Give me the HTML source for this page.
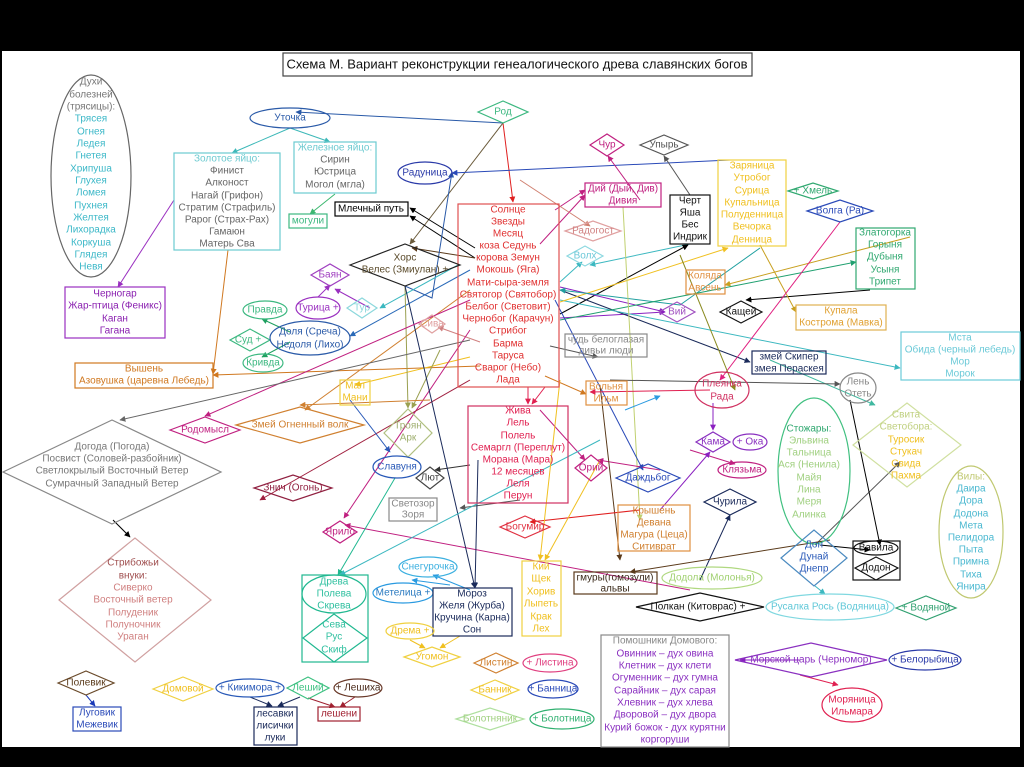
<!DOCTYPE html>
<html><head><meta charset="utf-8"><style>
html,body{margin:0;padding:0;background:#000;width:1024px;height:767px;overflow:hidden}
svg{display:block}
text{font-family:"Liberation Sans",sans-serif;font-size:10px;text-anchor:middle;dominant-baseline:middle}
.n{fill:none;stroke-width:1.2}
.l{fill:none;stroke-width:1}
</style></head><body>
<svg width="1024" height="767" viewBox="0 0 1024 767" xmlns="http://www.w3.org/2000/svg">
<defs>
<marker id="a" viewBox="0 0 10 10" refX="9" refY="5" markerWidth="6" markerHeight="6" orient="auto-start-reverse"><path d="M0,0L10,5L0,10z" fill="context-stroke"/></marker>
</defs>
<rect x="2" y="51" width="1018" height="696" fill="#fff"/>

<!-- connectors -->
<g class="l" marker-end="url(#a)">
<path d="M503,123 L296,112" stroke="#2a5aa8"/>
<path d="M503,123 L513,202" stroke="#e02020"/>
<path d="M503,123 L410,244" stroke="#6a5a3a"/>
<path d="M290,128 L232,153" stroke="#3cb8b8"/>
<path d="M290,128 L330,142" stroke="#3cb8b8"/>
<path d="M335,194 L310,214" stroke="#3cb870"/>
<path d="M174,200 L118,287" stroke="#9a30c0"/>
<path d="M228,250 L213,374" stroke="#d07820"/>
<path d="M730,160 L452,173" stroke="#2a4ab8"/>
<path d="M475,248 L410,208" stroke="#000"/>
<path d="M475,258 L410,216" stroke="#000"/>
<path d="M475,258 L412,248" stroke="#5a3a1a"/>
<path d="M405,286 L432,298 L452,172" stroke="#2a5aa8"/>
<path d="M458,265 L380,308" stroke="#3cb8c0"/>
<path d="M370,308 L335,289" stroke="#9a30c0"/>
<path d="M318,297 L330,285" stroke="#9a30c0"/>
<path d="M470,270 L350,336" stroke="#2a6ab8"/>
<path d="M290,332 L262,319" stroke="#20a060"/>
<path d="M290,342 L262,357" stroke="#20a060"/>
<path d="M480,366 L213,375" stroke="#d07820"/>
<path d="M480,342 L438,327" stroke="#d08080"/>
<path d="M470,357 L355,385" stroke="#f0c020"/>
<path d="M555,210 L585,190" stroke="#c02080"/>
<path d="M540,244 L585,195" stroke="#c02080"/>
<path d="M520,180 L590,226" stroke="#d08070"/>
<path d="M560,282 L582,262" stroke="#3cb8c0"/>
<path d="M690,244 L590,265" stroke="#3cb8c0"/>
<path d="M560,314 L688,245" stroke="#000"/>
<path d="M560,287 L665,312" stroke="#8a20c0"/>
<path d="M560,318 L665,312" stroke="#8a20c0"/>
<path d="M560,290 L750,362" stroke="#1a2a5a"/>
<path d="M560,300 L900,368" stroke="#3cb8c0"/>
<path d="M560,302 L728,248" stroke="#f0c020"/>
<path d="M910,237 L725,285" stroke="#c8a020"/>
<path d="M760,248 L680,305 L560,290" stroke="#20a0a0"/>
<path d="M560,320 L856,262" stroke="#20a070"/>
<path d="M870,290 L746,300" stroke="#000"/>
<path d="M760,245 L796,312" stroke="#c8a020"/>
<path d="M840,222 L720,380" stroke="#e02080"/>
<path d="M640,200 L608,156" stroke="#c02080"/>
<path d="M690,195 L664,156" stroke="#555"/>
<path d="M623,207 L640,520" stroke="#c0d070"/>
<path d="M528,387 L528,404" stroke="#e02050"/>
<path d="M545,387 L532,404" stroke="#e02050"/>
<path d="M545,376 L586,394" stroke="#d07820"/>
<path d="M550,346 L598,357" stroke="#555"/>
<path d="M555,300 L643,470" stroke="#2a4ab8"/>
<path d="M540,410 L585,460" stroke="#c02080"/>
<path d="M660,470 L598,460" stroke="#c02080"/>
<path d="M600,385 L620,560" stroke="#5a3a1a"/>
<path d="M713,403 L713,430" stroke="#8a20c0"/>
<path d="M690,450 L735,464" stroke="#c02080"/>
<path d="M660,510 L710,452" stroke="#8a20c0"/>
<path d="M700,580 L730,515" stroke="#1a2a5a"/>
<path d="M815,545 L900,462" stroke="#555"/>
<path d="M770,360 L875,405" stroke="#40b8a0"/>
<path d="M850,400 L880,545" stroke="#000"/>
<path d="M830,540 L630,572" stroke="#5a3a1a"/>
<path d="M820,545 L870,550" stroke="#000"/>
<path d="M815,586 L825,594" stroke="#3cb8c0"/>
<path d="M640,510 L530,522" stroke="#e02020"/>
<path d="M470,465 L435,470" stroke="#333"/>
<path d="M520,500 L460,508" stroke="#555"/>
<path d="M470,330 L344,518" stroke="#c02080"/>
<path d="M690,590 L345,525" stroke="#c02080"/>
<path d="M470,380 L260,500" stroke="#a02040"/>
<path d="M470,290 L305,410" stroke="#d08030"/>
<path d="M440,350 L412,408" stroke="#9aa050"/>
<path d="M405,286 L408,408" stroke="#9aa050"/>
<path d="M350,400 L390,452" stroke="#2a5ab8"/>
<path d="M405,286 L475,588" stroke="#1a2a5a"/>
<path d="M478,460 L475,588" stroke="#1a2a5a"/>
<path d="M395,478 L338,575" stroke="#20b890"/>
<path d="M600,440 L340,575" stroke="#3cb8c0"/>
<path d="M470,590 L433,575" stroke="#2a9ae0"/>
<path d="M450,585 L412,580" stroke="#2a9ae0"/>
<path d="M460,636 L440,648" stroke="#f0c020"/>
<path d="M410,640 L425,648" stroke="#f0c020"/>
<path d="M560,380 L540,560" stroke="#f0c020"/>
<path d="M600,460 L545,560" stroke="#f0c020"/>
<path d="M430,400 L300,405" stroke="#d08030"/>
<path d="M470,300 L205,416" stroke="#c02080"/>
<path d="M470,340 L120,420" stroke="#666"/>
<path d="M113,520 L130,537" stroke="#000"/>
<path d="M86,695 L95,706" stroke="#1a3ab8"/>
<path d="M250,697 L272,706" stroke="#1a2a5a"/>
<path d="M300,697 L278,706" stroke="#1a2a5a"/>
<path d="M308,698 L335,707" stroke="#a02030"/>
<path d="M355,697 L340,707" stroke="#a02030"/>
<path d="M800,675 L838,685" stroke="#e02050"/>
<path d="M710,390 L590,392" stroke="#e02050"/>
<path d="M800,660 L740,660" stroke="#8a20c0"/>
<path d="M625,410 L660,396" stroke="#2a9ae0"/>
<path d="M610,380 L840,384" stroke="#555"/>
<path d="M680,255 L735,390" stroke="#8a8a20"/>
</g>

<!-- title -->
<rect x="283" y="53" width="469" height="23" class="n" stroke="#444"/>
<text x="517" y="65" style="font-size:13px" fill="#111">Схема М. Вариант реконструкции генеалогического древа славянских богов</text>

<!-- Духи -->
<ellipse cx="91" cy="176" rx="40" ry="101" class="n" stroke="#666"/>
<g fill="#777"><text x="91" y="82">Духи</text><text x="91" y="95">болезней</text><text x="91" y="107">(трясицы):</text></g>
<g fill="#3cb8c8"><text x="91" y="119">Трясея</text><text x="91" y="132">Огнея</text><text x="91" y="144">Ледея</text><text x="91" y="156">Гнетея</text><text x="91" y="169">Хрипуша</text><text x="91" y="181">Глухея</text><text x="91" y="193">Ломея</text><text x="91" y="206">Пухнея</text><text x="91" y="218">Желтея</text><text x="91" y="230">Лихорадка</text><text x="91" y="243">Коркуша</text><text x="91" y="255">Глядея</text><text x="91" y="267">Невя</text></g>

<rect x="65" y="287" width="100" height="51" class="n" stroke="#9a30c0"/>
<g fill="#8a20b0"><text x="115" y="294">Черногар</text><text x="115" y="306">Жар-птица (Феникс)</text><text x="115" y="319">Каган</text><text x="115" y="331">Гагана</text></g>

<rect x="174" y="153" width="106" height="97" class="n" stroke="#6ccad0"/>
<text x="227" y="159" fill="#6ccad0">Золотое яйцо:</text>
<g fill="#666"><text x="227" y="171">Финист</text><text x="227" y="183">Алконост</text><text x="227" y="196">Нагай (Грифон)</text><text x="227" y="208">Стратим (Страфиль)</text><text x="227" y="220">Рарог (Страх-Рах)</text><text x="227" y="232">Гамаюн</text><text x="227" y="244">Матерь Сва</text></g>

<rect x="294" y="142" width="82" height="51" class="n" stroke="#6ccad0"/>
<text x="335" y="148" fill="#6ccad0">Железное яйцо:</text>
<g fill="#666"><text x="335" y="160">Сирин</text><text x="335" y="172">Юстрица</text><text x="335" y="185">Могол (мгла)</text></g>
<rect x="289" y="214" width="38" height="14" class="n" stroke="#3cb880"/><text x="308" y="221" fill="#3cb880">могули</text>
<rect x="335" y="202" width="73" height="14" class="n" stroke="#000"/><text x="371" y="209" fill="#000">Млечный путь</text>

<ellipse cx="290" cy="118" rx="40" ry="10" class="n" stroke="#2a5aa8"/><text x="290" y="118" fill="#2a5aa8">Уточка</text>
<path d="M478,112 L503,101 L528,112 L503,123z" class="n" stroke="#3cb880"/><text x="503" y="112" fill="#3cb880">Род</text>
<ellipse cx="425" cy="173" rx="27" ry="11" class="n" stroke="#2a3aa8"/><text x="425" y="173" fill="#2a3aa8">Радуница</text>

<rect x="458" y="204" width="101" height="183" class="n" stroke="#e05050"/>
<g fill="#e03030"><text x="508" y="210">Солнце</text><text x="508" y="222">Звезды</text><text x="508" y="234">Месяц</text><text x="508" y="246">коза Седунь</text><text x="508" y="258">корова Земун</text><text x="508" y="270">Мокошь (Яга)</text><text x="508" y="283">Мати-сыра-земля</text><text x="508" y="295">Святогор (Святобор)</text><text x="508" y="307">Белбог (Световит)</text><text x="508" y="319">Чернобог (Карачун)</text><text x="508" y="331">Стрибог</text><text x="508" y="344">Барма</text><text x="508" y="356">Таруса</text><text x="508" y="368">Сварог (Небо)</text><text x="508" y="380">Лада</text></g>

<path d="M350,265 L405,244 L460,265 L405,286z" class="n" stroke="#222" fill="#fff"/>
<text x="405" y="258" fill="#5a4a2a">Хорс</text><text x="405" y="270" fill="#5a4a2a">Велес (Змиулан) +</text>
<path d="M311,275 L330,264 L349,275 L330,286z" class="n" stroke="#a040c0"/><text x="330" y="275" fill="#a040c0">Баян</text>
<ellipse cx="318" cy="308" rx="22" ry="11" class="n" stroke="#9a30c0"/><text x="318" y="308" fill="#9a30c0">Турица +</text>
<path d="M347,308 L362,298 L377,308 L362,318z" class="n" stroke="#8cd8dc"/><text x="362" y="308" fill="#8cd8dc">Тур</text>
<ellipse cx="265" cy="310" rx="22" ry="9" class="n" stroke="#3cb880"/><text x="265" y="310" fill="#3cb880">Правда</text>
<path d="M230,340 L250,329 L270,340 L250,351z" class="n" stroke="#3cb880"/><text x="248" y="340" fill="#3cb880">Суд +</text>
<ellipse cx="310" cy="338" rx="40" ry="17" class="n" stroke="#2a5aa8"/><text x="310" y="332" fill="#2a5aa8">Доля (Среча)</text><text x="310" y="345" fill="#2a5aa8">Недоля (Лихо)</text>
<ellipse cx="263" cy="363" rx="20" ry="9" class="n" stroke="#3cb880"/><text x="263" y="363" fill="#3cb880">Кривда</text>
<rect x="75" y="363" width="138" height="25" class="n" stroke="#d07820"/><text x="144" y="369" fill="#d07820">Вышень</text><text x="144" y="381" fill="#d07820">Азовушка (царевна Лебедь)</text>
<path d="M419,324 L432,315 L445,324 L432,333z" class="n" stroke="#e0a0a0"/><text x="432" y="324" fill="#e0a0a0">Сива</text>
<rect x="565" y="334" width="82" height="23" class="n" stroke="#888"/><text x="606" y="340" fill="#888">чудь белоглазая</text><text x="606" y="351" fill="#888">дивьи люди</text>
<rect x="340" y="380" width="30" height="25" class="n" stroke="#f0d040"/><text x="355" y="386" fill="#f0c020">Мал</text><text x="355" y="398" fill="#f0c020">Мани</text>

<path d="M170,430 L205,417 L240,430 L205,443z" class="n" stroke="#c02080"/><text x="205" y="430" fill="#c02080">Родомысл</text>
<path d="M236,425 L300,407 L364,425 L300,443z" class="n" stroke="#d08030"/><text x="300" y="425" fill="#d08030">Змей Огненный волк</text>
<path d="M384,433 L408,409 L432,433 L408,457z" class="n" stroke="#b0c080"/><text x="408" y="426" fill="#a0b070">Троян</text><text x="408" y="438" fill="#a0b070">Арк</text>
<path d="M3,472 L112,420 L221,472 L112,524z" class="n" stroke="#888"/>
<g fill="#777"><text x="112" y="447">Догода (Погода)</text><text x="112" y="459">Посвист (Соловей-разбойник)</text><text x="112" y="471">Светлокрылый Восточный Ветер</text><text x="112" y="484">Сумрачный Западный Ветер</text></g>
<ellipse cx="397" cy="467" rx="24" ry="11" class="n" stroke="#2a5ab8"/><text x="397" y="467" fill="#2a5ab8">Славуня</text>
<path d="M416,478 L430,467 L444,478 L430,489z" class="n" stroke="#444"/><text x="430" y="478" fill="#444">Лют</text>
<path d="M254,488 L293,475 L332,488 L293,501z" class="n" stroke="#902040"/><text x="293" y="488" fill="#902040">Знич (Огонь)</text>
<rect x="389" y="498" width="48" height="23" class="n" stroke="#888"/><text x="413" y="504" fill="#888">Светозор</text><text x="413" y="515" fill="#888">Зоря</text>
<path d="M323,532 L340,521 L357,532 L340,543z" class="n" stroke="#c02080"/><text x="340" y="532" fill="#c02080">Ярило</text>
<path d="M59,600 L135,538 L211,600 L135,662z" class="n" stroke="#d0a0a0"/>
<text x="133" y="563" fill="#a05050">Стрибожьи</text><text x="133" y="576" fill="#a05050">внуки:</text>
<g fill="#d08080"><text x="133" y="588">Сиверко</text><text x="133" y="600">Восточный ветер</text><text x="133" y="613">Полуденик</text><text x="133" y="625">Полуночник</text><text x="133" y="637">Ураган</text></g>

<rect x="302" y="575" width="66" height="87" class="n" stroke="#20b890"/>
<ellipse cx="334" cy="594" rx="32" ry="19" class="n" stroke="#20b890"/>
<path d="M303,638 L334,614 L367,638 L334,662z" class="n" stroke="#20b890"/>
<g fill="#30c0a0"><text x="334" y="582">Древа</text><text x="334" y="594">Полева</text><text x="334" y="606">Скрева</text><text x="334" y="625">Сева</text><text x="334" y="637">Рус</text><text x="334" y="650">Скиф</text></g>
<ellipse cx="428" cy="567" rx="29" ry="10" class="n" stroke="#3cb0e0"/><text x="428" y="567" fill="#3cb0e0">Снегурочка</text>
<ellipse cx="403" cy="593" rx="30" ry="10" class="n" stroke="#2a9ae0"/><text x="403" y="593" fill="#2a7ac0">Метелица +</text>
<rect x="433" y="588" width="79" height="48" class="n" stroke="#1a2a5a"/>
<g fill="#1a2a5a"><text x="472" y="594">Мороз</text><text x="472" y="606">Желя (Журба)</text><text x="472" y="618">Кручина (Карна)</text><text x="472" y="630">Сон</text></g>
<ellipse cx="410" cy="631" rx="24" ry="8" class="n" stroke="#f0d040"/><text x="410" y="631" fill="#f0c020">Дрема +</text>
<path d="M404,657 L432,647 L460,657 L432,667z" class="n" stroke="#f0d040"/><text x="432" y="657" fill="#f0c020">Угомон</text>
<path d="M474,663 L496,653 L518,663 L496,673z" class="n" stroke="#d08030"/><text x="496" y="663" fill="#d08030">Листин</text>
<ellipse cx="550" cy="663" rx="27" ry="9" class="n" stroke="#e04080"/><text x="550" y="663" fill="#e04080">+ Листина</text>
<path d="M471,690 L495,680 L519,690 L495,700z" class="n" stroke="#f0d040"/><text x="495" y="690" fill="#f0c020">Банник</text>
<ellipse cx="553" cy="689" rx="25" ry="9" class="n" stroke="#2a4ab8"/><text x="553" y="689" fill="#2a4ab8">+ Банница</text>
<path d="M456,719 L490,708 L524,719 L490,730z" class="n" stroke="#b0e0a0"/><text x="490" y="719" fill="#a0d080">Болотняник</text>
<ellipse cx="562" cy="719" rx="32" ry="10" class="n" stroke="#30b070"/><text x="562" y="719" fill="#30b070">+ Болотница</text>

<path d="M58,683 L86,671 L114,683 L86,695z" class="n" stroke="#6a4a2a"/><text x="86" y="683" fill="#5a3a1a">Полевик</text>
<rect x="73" y="707" width="48" height="24" class="n" stroke="#2a4ab8"/><text x="97" y="713" fill="#2a4ab8">Луговик</text><text x="97" y="725" fill="#2a4ab8">Межевик</text>
<path d="M153,689 L183,677 L213,689 L183,701z" class="n" stroke="#f0d040"/><text x="183" y="689" fill="#f0c020">Домовой</text>
<ellipse cx="250" cy="688" rx="34" ry="9" class="n" stroke="#2a5ab8"/><text x="250" y="688" fill="#2a5ab8">+ Кикимора +</text>
<path d="M287,688 L308,677 L329,688 L308,699z" class="n" stroke="#3cc080"/><text x="308" y="688" fill="#3cc080">Леший</text>
<ellipse cx="358" cy="688" rx="24" ry="9" class="n" stroke="#6a3a2a"/><text x="358" y="688" fill="#4a2a1a">+ Лешиха</text>
<rect x="254" y="707" width="43" height="38" class="n" stroke="#1a2a5a"/><text x="275" y="714" fill="#1a2a5a">лесавки</text><text x="275" y="726" fill="#1a2a5a">лисички</text><text x="275" y="738" fill="#1a2a5a">луки</text>
<rect x="318" y="707" width="42" height="14" class="n" stroke="#a02030"/><text x="339" y="714" fill="#a02030">лешени</text>

<rect x="468" y="406" width="100" height="97" class="n" stroke="#d03060"/>
<g fill="#e02050"><text x="518" y="411">Жива</text><text x="518" y="423">Лель</text><text x="518" y="436">Полель</text><text x="518" y="448">Семаргл (Переплут)</text><text x="518" y="460">Морана (Мара)</text><text x="518" y="472">12 месяцев</text><text x="518" y="484">Леля</text><text x="518" y="496">Перун</text></g>
<path d="M500,527 L525,516 L550,527 L525,538z" class="n" stroke="#e03040"/><text x="525" y="527" fill="#e03040">Богумир</text>
<rect x="522" y="561" width="39" height="75" class="n" stroke="#f0d040"/>
<g fill="#f0c020"><text x="541" y="567">Кий</text><text x="541" y="579">Щек</text><text x="541" y="592">Хорив</text><text x="541" y="604">Лыпеть</text><text x="541" y="617">Крак</text><text x="541" y="629">Лех</text></g>
<rect x="574" y="572" width="83" height="22" class="n" stroke="#5a3a1a"/><text x="615" y="578" fill="#3a2a1a">гмуры(гомозули)</text><text x="615" y="589" fill="#3a2a1a">альвы</text>
<ellipse cx="712" cy="578" rx="50" ry="11" class="n" stroke="#b0d880"/><text x="712" y="578" fill="#a0d070">Додола (Молонья)</text>
<path d="M636,607 L700,593 L764,607 L700,621z" class="n" stroke="#111"/><text x="698" y="607" fill="#111">Полкан (Китоврас) +</text>
<ellipse cx="830" cy="607" rx="64" ry="13" class="n" stroke="#80d8e0"/><text x="830" y="607" fill="#60c8d8">Русалка Рось (Водяница)</text>
<path d="M896,608 L926,596 L956,608 L926,620z" class="n" stroke="#30a070"/><text x="926" y="608" fill="#30a070">+ Водяной</text>
<rect x="601" y="635" width="128" height="112" class="n" stroke="#888"/>
<text x="665" y="641" fill="#888">Помошники Домового:</text>
<g fill="#8a30c0"><text x="665" y="654">Овинник – дух овина</text><text x="665" y="666">Клетник – дух клети</text><text x="665" y="678">Огуменник – дух гумна</text><text x="665" y="691">Сарайник – дух сарая</text><text x="665" y="703">Хлевник – дух хлева</text><text x="665" y="715">Дворовой – дух двора</text><text x="665" y="728">Курий божок - дух курятни</text><text x="665" y="740">коргоруши</text></g>
<path d="M735,660 L811,643 L887,660 L811,677z" class="n" stroke="#8a30c0"/><text x="811" y="660" fill="#8a30c0">Морской царь (Черномор)</text>
<ellipse cx="925" cy="660" rx="36" ry="10" class="n" stroke="#2a3aa8"/><text x="925" y="660" fill="#2a3aa8">+ Белорыбица</text>
<ellipse cx="852" cy="705" rx="30" ry="17" class="n" stroke="#e02050"/><text x="852" y="700" fill="#e02050">Моряница</text><text x="852" y="712" fill="#e02050">Ильмара</text>

<rect x="586" y="381" width="41" height="24" class="n" stroke="#e09040"/><text x="606" y="387" fill="#e09040">Вольня</text><text x="606" y="399" fill="#e09040">Ильм</text>
<ellipse cx="722" cy="390" rx="27" ry="18" class="n" stroke="#d03060"/><text x="722" y="384" fill="#d03060">Плеянка</text><text x="722" y="397" fill="#d03060">Рада</text>
<ellipse cx="858" cy="388" rx="18" ry="15" class="n" stroke="#888"/><text x="858" y="382" fill="#888">Лень</text><text x="858" y="394" fill="#888">Отеть</text>
<ellipse cx="814" cy="471" rx="36" ry="73" class="n" stroke="#40c080"/>
<text x="809" y="429" fill="#30a870">Стожары:</text>
<g fill="#a0d080"><text x="809" y="441">Эльвина</text><text x="809" y="453">Тальница</text><text x="809" y="465">Ася (Ненила)</text><text x="809" y="478">Майя</text><text x="809" y="490">Лина</text><text x="809" y="502">Меря</text><text x="809" y="515">Алинка</text></g>
<path d="M853,445 L907,403 L961,445 L907,487z" class="n" stroke="#d0e0a0"/>
<text x="906" y="415" fill="#c0d080">Свита</text><text x="906" y="427" fill="#c0d080">Светобора:</text>
<g fill="#f0c020"><text x="906" y="440">Туросик</text><text x="906" y="452">Стукач</text><text x="906" y="464">Свида</text><text x="906" y="476">Пахма</text></g>
<ellipse cx="971" cy="532" rx="32" ry="66" class="n" stroke="#c0c870"/>
<text x="971" y="477" fill="#c0c870">Вилы:</text>
<g fill="#4ab8d0"><text x="971" y="489">Даира</text><text x="971" y="501">Дора</text><text x="971" y="514">Додона</text><text x="971" y="526">Мета</text><text x="971" y="538">Пелидора</text><text x="971" y="550">Пыта</text><text x="971" y="562">Примна</text><text x="971" y="575">Тиха</text><text x="971" y="587">Янира</text></g>
<path d="M696,442 L713,432 L730,442 L713,452z" class="n" stroke="#8a30c0"/><text x="713" y="442" fill="#8a30c0">Кама</text>
<ellipse cx="750" cy="442" rx="17" ry="8" class="n" stroke="#8a30c0"/><text x="750" y="442" fill="#8a30c0">+ Ока</text>
<ellipse cx="742" cy="470" rx="24" ry="8" class="n" stroke="#c02080"/><text x="742" y="470" fill="#c02080">Клязьма</text>
<path d="M575,468 L591,455 L607,468 L591,481z" class="n" stroke="#c02080"/><text x="591" y="468" fill="#c02080">Орий</text>
<path d="M616,478 L648,464 L680,478 L648,492z" class="n" stroke="#2a4ab8"/><text x="648" y="478" fill="#2a4ab8">Даждьбог</text>
<rect x="618" y="505" width="72" height="46" class="n" stroke="#e09040"/>
<g fill="#d08030"><text x="654" y="511">Крышень</text><text x="654" y="523">Девана</text><text x="654" y="535">Магура (Цеца)</text><text x="654" y="547">Ситиврат</text></g>
<path d="M704,502 L730,489 L756,502 L730,515z" class="n" stroke="#1a2a5a"/><text x="730" y="502" fill="#1a2a5a">Чурила</text>
<path d="M781,558 L814,530 L847,558 L814,586z" class="n" stroke="#4a8ac0"/><text x="814" y="545" fill="#2a5ab8">Дон</text><text x="814" y="557" fill="#2a5ab8">Дунай</text><text x="814" y="569" fill="#2a5ab8">Днепр</text>
<rect x="853" y="541" width="47" height="39" class="n" stroke="#111"/>
<ellipse cx="876" cy="548" rx="22" ry="7" class="n" stroke="#111"/><text x="876" y="548" fill="#111">Вавила</text>
<path d="M855,568 L876,557 L898,568 L876,580z" class="n" stroke="#111"/><text x="876" y="568" fill="#111">Додон</text>
<rect x="901" y="332" width="119" height="48" class="n" stroke="#6ccad8"/>
<g fill="#6ccad8"><text x="960" y="338">Мста</text><text x="960" y="350">Обида (черный лебедь)</text><text x="960" y="362">Мор</text><text x="960" y="374">Морок</text></g>
<rect x="752" y="351" width="74" height="23" class="n" stroke="#1a2a5a"/><text x="789" y="357" fill="#1a2a5a">змей Скипер</text><text x="789" y="369" fill="#1a2a5a">змея Пераскея</text>
<path d="M720,312 L741,301 L762,312 L741,323z" class="n" stroke="#111"/><text x="741" y="312" fill="#111">Кащей</text>
<rect x="796" y="305" width="90" height="25" class="n" stroke="#e0b050"/><text x="841" y="311" fill="#e0a030">Купала</text><text x="841" y="323" fill="#e0a030">Кострома (Мавка)</text>
<path d="M659,312 L677,302 L695,312 L677,322z" class="n" stroke="#a050c0"/><text x="677" y="312" fill="#a050c0">Вий</text>
<rect x="686" y="270" width="39" height="24" class="n" stroke="#e09040"/><text x="705" y="276" fill="#e09040">Коляда</text><text x="705" y="288" fill="#e09040">Авсень</text>
<rect x="856" y="228" width="59" height="61" class="n" stroke="#30a870"/>
<g fill="#30a870"><text x="885" y="233">Златогорка</text><text x="885" y="245">Горыня</text><text x="885" y="257">Дубыня</text><text x="885" y="270">Усыня</text><text x="885" y="282">Трипет</text></g>
<path d="M807,211 L840,200 L873,211 L840,222z" class="n" stroke="#2a4ab8"/><text x="840" y="211" fill="#2a4ab8">Волга (Ра)</text>
<path d="M788,191 L813,183 L838,191 L813,199z" class="n" stroke="#30a870"/><text x="813" y="191" fill="#30a870">+ Хмель</text>
<rect x="718" y="160" width="68" height="86" class="n" stroke="#f0d040"/>
<g fill="#f0c020"><text x="752" y="166">Заряница</text><text x="752" y="178">Утробог</text><text x="752" y="191">Сурица</text><text x="752" y="203">Купальница</text><text x="752" y="215">Полуденница</text><text x="752" y="227">Вечорка</text><text x="752" y="240">Денница</text></g>
<rect x="670" y="195" width="40" height="49" class="n" stroke="#111"/>
<g fill="#111"><text x="690" y="201">Черт</text><text x="690" y="213">Яша</text><text x="690" y="225">Бес</text><text x="690" y="237">Индрик</text></g>
<path d="M590,145 L607,134 L624,145 L607,156z" class="n" stroke="#c02080"/><text x="607" y="145" fill="#c02080">Чур</text>
<path d="M640,145 L664,135 L688,145 L664,155z" class="n" stroke="#555"/><text x="664" y="145" fill="#555">Упырь</text>
<rect x="585" y="183" width="76" height="24" class="n" stroke="#c02080"/><text x="623" y="189" fill="#c02080">Дий (Дый, Див)</text><text x="623" y="201" fill="#c02080">Дивия</text>
<path d="M565,231 L593,221 L621,231 L593,241z" class="n" stroke="#e0a0a0"/><text x="593" y="231" fill="#d08080">Радогост</text>
<path d="M567,256 L585,246 L603,256 L585,266z" class="n" stroke="#8cd8e0"/><text x="585" y="256" fill="#6cc8d8">Волх</text>
</svg>
</body></html>
